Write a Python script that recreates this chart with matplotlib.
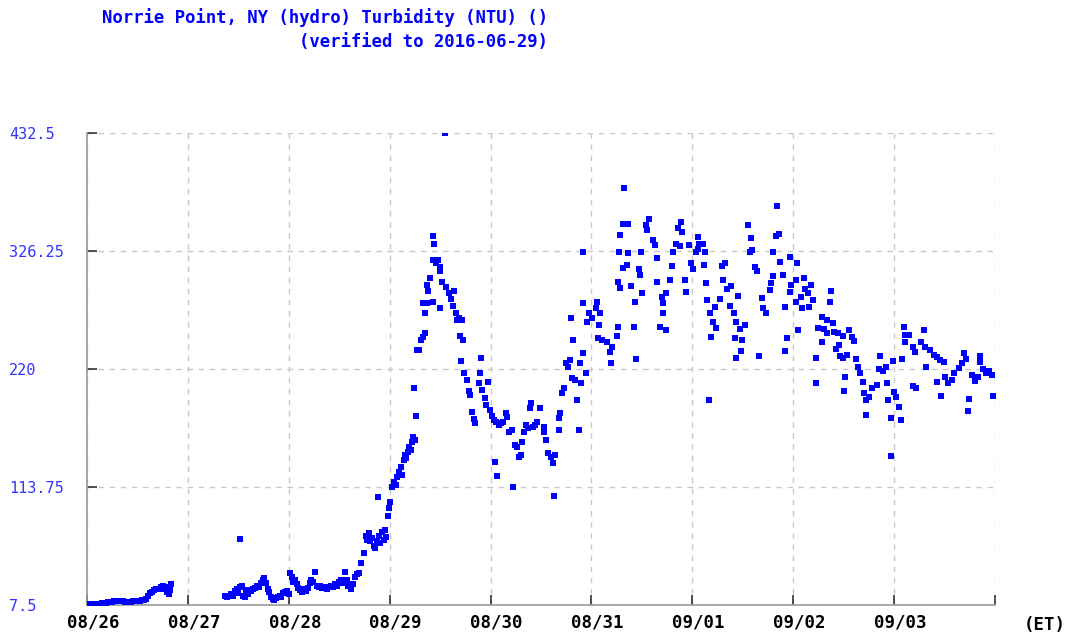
import matplotlib
matplotlib.use("Agg")
import matplotlib.pyplot as plt
import matplotlib.transforms as mtransforms

# hours since 08/26 00:00 (ET) and turbidity (NTU)
hours_0826 = [0, 0.5, 1, 1.5, 2, 2.5, 3, 3.5, 4, 4.5, 5, 5.5, 6, 6.5, 7, 7.5, 8, 8.5, 9, 9.5,
              10, 10.5, 11, 11.5, 12, 12.5, 13, 13.5, 14, 14.5, 15, 15.5, 16, 16.5, 17, 17.5,
              18, 18.3, 18.7, 19, 19.3, 19.6, 19.8, 20]
ntu_0826 = [8, 7.8, 8, 8, 8.2, 8.5, 8.5, 9, 9, 9.5, 10, 10, 10.5, 11, 11, 11, 11, 11, 10.5, 10.5,
            10.5, 10.5, 11, 11, 11.5, 11.5, 12, 12, 13, 16, 18, 19, 21, 22, 22, 24,
            25, 22, 23, 19, 24, 17, 21, 26]

hours_0827 = [32.8, 33.3, 33.8, 34.3, 34.8, 35.2, 35.6, 36.0, 36.4, 36.5, 36.8, 37.1, 37.5, 37.9,
              38.3, 38.7, 39.1, 39.5, 40, 40.5, 41, 41.4, 41.8, 42.2, 42.6, 43, 43.4, 43.8,
              44.2, 44.6, 45, 45.4, 45.8, 46.2, 46.6, 47, 47.5, 48, 48.3, 48.7, 49.1, 49.5,
              49.9, 50.3, 50.7, 51.1, 51.5, 52, 52.5, 53, 53.4, 53.8, 54.3, 54.7, 55.1, 55.5,
              56, 56.5, 57, 57.5, 58, 58.5, 59, 59.5, 60, 60.5, 61, 61.3, 61.8, 62.2, 62.7,
              63.2, 63.7, 64.2, 64.7, 65.1, 66, 66.3, 66.6, 67, 67.4, 67.8, 68.2, 68.6, 69,
              69.2, 69.4, 69.8, 70.2, 70.6, 70.8, 71.2, 71.5, 71.8, 72.1]
ntu_0827 = [16, 15, 16, 17, 16, 20, 22, 18, 24, 67, 25, 16, 15, 21,
            17, 21, 20, 22, 23, 25, 24, 27, 30, 32, 27, 22, 19, 15,
            13, 12, 14, 15, 16, 15, 18, 19, 20, 17, 36, 33, 28, 30,
            26, 23, 21, 19, 22, 20, 23, 27, 30, 28, 37, 25, 24, 25,
            23, 24, 22, 24, 25, 24, 26, 25, 28, 30, 27, 37, 30, 25, 22,
            26, 33, 35, 36, 45, 54, 70, 66, 72, 65, 68, 61, 59, 65,
            105, 70, 63, 73, 66, 75, 69, 88, 95, 100]

hours_0829 = [72.5, 73, 73.5, 73.8, 74.2, 74.6, 75, 75.3, 75.6, 76, 76.3, 76.7, 77, 77.3, 77.6,
              78, 77.9, 78.3, 78.6, 79, 79.5, 80, 80.5, 80.3, 80, 81, 81, 81.2, 81.6, 82.2,
              82.4, 82.6, 82.2, 83, 83.5, 84, 84, 84.5, 84, 85.1, 85.5, 86, 86.5, 87, 87.4,
              87.7, 88, 88.5, 88.8, 89.3, 89.5, 88.9, 89.8, 90.3, 90.8, 91.2, 91.7, 92, 92.4,
              93.4, 93.8, 93.2, 94, 94.6, 95, 95.4, 95.8]
ntu_0829 = [114, 118, 116, 123, 127, 132, 125, 138, 143, 140, 145, 150, 147, 154, 159,
            156, 203, 178, 237, 237, 246, 249, 252, 270, 279, 279, 296, 290, 302, 280,
            340, 333, 318, 315, 318, 312, 308, 298, 275, 432.5, 294, 288, 283, 277, 290,
            270, 264, 266, 250, 264, 246, 227, 216, 210, 200, 197, 181, 175, 171,
            216, 230, 207, 201, 194, 188, 208, 183]

hours_0830 = [96.3, 96.8, 97, 97.6, 97.3, 98, 98.5, 99, 99.7, 100, 100.5, 101, 101.3, 101.7,
              102.3, 102.7, 103.2, 103.5, 104, 104.4, 105, 105.3, 105.6, 106, 106.5, 107,
              107.8, 108.6, 108.8, 109.3, 109.6, 110.3, 110.8, 111, 111.3, 112.2, 112.6,
              112.4, 113.1, 113.5, 114, 114.5, 114.8, 115.1, 115.5, 115.3, 116.2, 116.6,
              117.1, 117.3, 117.6, 118.1, 118.6, 118, 118, 119, 119.5]
ntu_0830 = [178, 174, 136, 124, 172, 170, 171, 172, 180, 177, 163, 165, 114, 152,
            150, 141, 143, 154, 163, 170, 167, 185, 189, 168, 170, 172,
            185, 168, 163, 156, 144, 141, 135, 106, 143, 176, 180,
            165, 198, 203, 225, 222, 228, 266, 246, 212, 210, 192,
            165, 225, 207, 234, 216, 325, 279, 262, 270]

hours_0831 = [120.2, 121, 121.4, 122, 121.6, 121.9, 122.4, 123.6, 124.3, 125, 124.7, 126, 126.4,
              127.8, 127.5, 128.8, 126.9, 126.6, 126.2, 126.8, 127.6, 128.5, 128.8, 129.5,
              130.4, 130.2, 130.6, 131.2, 131.6, 132, 131.9, 132.9, 133.6, 133.3, 134.6,
              135.2, 135.7, 135.7, 136.8, 137.1, 137, 136.3, 137.7, 137.8, 138.8, 139.1,
              139.5, 140.5, 141.2, 141.6, 140.2, 141, 142.3, 142.6, 143.2]
ntu_0831 = [266, 275, 280, 270, 248, 260, 246, 244, 235, 240, 225, 250, 258,
            383, 351, 351, 341, 325, 298, 293, 311, 314, 324, 295,
            280, 258, 229, 310, 305, 288, 325, 350, 355, 345, 336,
            332, 320, 298, 285, 279, 270, 258, 255, 288, 300, 313,
            325, 347, 352, 343, 333, 331, 300, 289, 332]

hours_0901 = [143.8, 144.2, 144.8, 145.3, 145.6, 146.5, 145.4, 147, 146.7, 147.3, 147.6, 148,
              148.3, 149, 149.7, 148.5, 149.5, 150.5, 151.1, 151.8, 151.2, 152.2, 153.3, 153,
              153.9, 154.8, 154.5, 155.4, 154.1, 154.5, 155.5, 155.9, 156.5, 157.2, 158,
              158.2, 157.6, 158.8, 159.5, 159.9, 160.5, 161.5, 160.8, 162.4, 162.8, 163.2,
              163.1, 163.9, 164.2, 164.7, 164.9, 165.5, 166.1, 166.1, 166.6, 167.3, 167.5,
              167.3]
ntu_0901 = [315, 310, 325, 328, 333, 333, 339, 325, 314, 297, 282, 192,
            270, 262, 257, 249, 276, 283, 313, 315, 300, 292, 295, 277,
            270, 286, 262, 256, 248, 230, 236, 246, 260, 350, 338,
            327, 325, 312, 308, 232, 284, 270, 275, 291, 297, 325,
            304, 340, 367, 342, 316, 305, 276, 236, 248, 321, 296,
            289]

hours_0902 = [168.7, 169.2, 169.8, 170, 168.6, 169, 170.5, 170.8, 171.5, 172.2, 171.8, 172.6,
              173.3, 173.5, 173.8, 174.8, 175.3, 176, 176.1, 176.9, 176.7, 177.4, 174.9,
              177.6, 178.6, 178.1, 178.8, 179.1, 179.9, 180.7, 179.8, 180.3, 180.1, 181.3,
              181.9, 182.5, 182.9, 183.3, 183.8, 184.5, 184.9, 185.3, 185.2, 186, 186.8,
              188, 188.6, 188.5, 189.3, 190, 190.3, 190.5, 191.3]
ntu_0902 = [280, 255, 285, 275, 300, 315, 302, 292, 288, 296, 276, 282,
            230, 207, 257, 267, 256, 252, 264, 290, 280, 261, 244,
            253, 252, 238, 242, 232, 230, 233, 250, 213, 200, 255,
            249, 245, 229, 222, 216, 208, 198, 192, 179, 195, 203,
            206, 232, 220, 218, 222, 207, 192, 176]

hours_0903 = [191.2, 191.7, 191.9, 192.5, 193.2, 193.7, 193.8, 194.3, 194.7, 195.5, 194.5,
              196.4, 197, 199.1, 198.4, 199.3, 199.5, 196.6, 197.2, 200.5, 201.5, 202.3,
              202.2, 203.1, 203, 203.8, 204, 204.8, 205.8, 206.3, 207.5, 208.2, 208.7,
              209.2, 209.8, 209.6, 210.5, 211.3, 212, 212.5, 212.4, 213.2, 213.8, 214.6,
              215.3, 215.5]
ntu_0903 = [142, 227, 199, 195, 186, 174, 229, 258, 251, 251, 244,
            240, 235, 255, 244, 240, 222, 205, 203, 237, 233, 231,
            208, 196, 228, 226, 213, 207, 210, 216, 221, 225, 234,
            229, 193, 182, 215, 209, 213, 232, 226, 220, 216, 218,
            215, 196]

date_labels = ["08/26", "08/27", "08/28", "08/29", "08/30", "08/31", "09/01", "09/02", "09/03", ""]
y_ticks = [7.5, 113.75, 220, 326.25, 432.5]
y_labels = ["7.5", "113.75", "220", "326.25", "432.5"]

hours = (hours_0826 + hours_0827 + hours_0829 + hours_0830 + hours_0831
         + hours_0901 + hours_0902 + hours_0903)
ntu = (ntu_0826 + ntu_0827 + ntu_0829 + ntu_0830 + ntu_0831
       + ntu_0901 + ntu_0902 + ntu_0903)

fig = plt.figure(figsize=(10.71, 6.37), dpi=100)
ax = fig.add_axes([87 / 1071, 1 - 605 / 637, 908 / 1071, 472 / 637])

ax.scatter(hours, ntu, marker="s", s=15, color="#0000ff", linewidths=0, zorder=3)

ax.set_xlim(0, 216)
ax.set_ylim(7.5, 432.5)
ax.set_xticks(range(0, 217, 24))
ax.set_xticklabels(date_labels, family="DejaVu Sans Mono", fontweight="bold",
                   fontsize=12.5, color="black")
ax.set_yticks(y_ticks)
ax.set_yticklabels(y_labels, family="DejaVu Sans Mono", fontsize=11, color="#3333ff", ha="left")

ax.tick_params(axis="both", direction="in", length=7, width=1.2, color="#333333")
ax.tick_params(axis="y", pad=56)
ax.tick_params(axis="x", pad=6)

offset = mtransforms.ScaledTranslation(6 / 100, 0, fig.dpi_scale_trans)
for lab in ax.get_xticklabels():
    lab.set_transform(lab.get_transform() + offset)

ax.grid(True, linestyle=(0, (4, 4)), color="#c8c8c8", linewidth=1)
ax.set_axisbelow(True)
for side in ["top", "right"]:
    ax.spines[side].set_visible(False)
for side in ["left", "bottom"]:
    ax.spines[side].set_color("#999999")
    ax.spines[side].set_linewidth(1.2)

fig.text(548 / 1071, 1 - 18 / 637, "Norrie Point, NY (hydro) Turbidity (NTU) ()",
         family="DejaVu Sans Mono", fontweight="bold", fontsize=12.4, color="#0000ff",
         ha="right", va="center")
fig.text(548 / 1071, 1 - 42 / 637, "(verified to 2016-06-29)",
         family="DejaVu Sans Mono", fontweight="bold", fontsize=12.4, color="#0000ff",
         ha="right", va="center")
fig.text(1045 / 1071, 1 - 625 / 637, "(ET)", family="DejaVu Sans Mono", fontweight="bold",
         fontsize=12.5, color="black", ha="center", va="center")

fig.savefig("out.png", dpi=100)
